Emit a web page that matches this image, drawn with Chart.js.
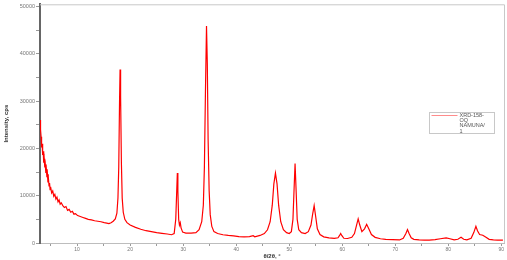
<!DOCTYPE html>
<html>
<head>
<meta charset="utf-8">
<script src="https://cdn.jsdelivr.net/npm/chart.js@4/dist/chart.umd.min.js"></script>
<style>
  html, body { margin: 0; padding: 0; background: #fff; }
  #wrap { width: 507px; height: 260px; }
</style>
</head>
<body>
<div id="wrap"><canvas id="xrd" width="507" height="260"></canvas></div>
<script>
// 2theta positions (deg) and intensity (cps)
const twoTheta = [
  3.0, 3.1, 3.2, 3.3, 3.4, 3.5, 3.6, 3.7, 3.8, 3.9, 4.0, 4.1, 4.2, 4.3, 4.4, 4.5, 4.6, 4.7, 4.8, 4.9,
  5.0, 5.2, 5.4, 5.6, 5.8, 6.0, 6.2, 6.4, 6.6, 6.8, 7.0, 7.3, 7.6, 7.9, 8.2, 8.5, 8.8, 9.1, 9.4, 9.7,
  10.1, 10.6, 11.1, 11.6, 12.1, 12.7, 13.3, 13.9, 14.5, 15.1, 15.6, 16.0, 16.4, 16.8, 17.2, 17.5,
  17.7, 17.85, 18.0, 18.1, 18.2, 18.35, 18.5, 18.7, 19.0, 19.4, 20.0, 21.0, 22.0, 23.0, 24.0, 25.0,
  26.0, 27.0, 27.8, 28.3, 28.6, 28.8, 28.9, 29.0, 29.15, 29.3, 29.45, 29.6, 29.9, 30.5, 31.5, 32.4,
  33.0, 33.5, 33.8, 34.0, 34.2, 34.4, 34.55, 34.7, 34.9, 35.1, 35.4, 35.8, 36.5, 37.5, 38.5, 39.5,
  40.5, 41.5, 42.5, 43.2, 43.5, 44.5, 45.3, 45.9, 46.4, 46.8, 47.1, 47.4, 47.7, 48.0, 48.4, 48.9,
  49.5, 50.0, 50.4, 50.7, 50.9, 51.1, 51.3, 51.5, 51.8, 52.3, 53.0, 53.6, 54.1, 54.4, 54.7, 55.0,
  55.3, 55.8, 56.5, 57.5, 58.5, 59.2, 59.5, 59.7, 59.9, 60.3, 61.0, 61.8, 62.3, 62.7, 63.0, 63.3,
  63.7, 64.2, 64.6, 65.0, 65.5, 66.2, 67.2, 68.2, 69.5, 70.8, 71.5, 72.0, 72.3, 72.6, 73.0, 73.5,
  74.5, 75.5, 76.4, 77.5, 78.5, 79.6, 80.3, 81.1, 81.8, 82.4, 82.9, 83.5, 84.3, 84.8, 85.2, 85.5,
  85.9, 86.5, 87.1, 87.7, 88.5, 89.3, 90.3
];
const intensity = [
  26000, 24000, 22500, 20200, 21000, 18600, 19400, 17000, 17800, 16000, 16600, 14800, 15600, 13900, 14600, 12800, 13500, 12100, 12700, 11300,
  11900, 10600, 11000, 9900, 10300, 9300, 9700, 8700, 9100, 8200, 8500, 7900, 7500, 7700, 6900, 7100, 6500, 6700, 6100, 6200,
  5800, 5600, 5400, 5200, 5000, 4900, 4700, 4600, 4500, 4300, 4200, 4100, 4300, 4600, 5100, 6300,
  9500, 16000, 30000, 36700, 31000, 17000, 9500, 6500, 5000, 4300, 3800, 3300, 2900, 2600, 2400, 2200,
  2050, 1900, 1750, 2000, 5000, 11500, 14800, 11000, 5000, 3800, 4300, 3200, 2300, 2100, 2100, 2200,
  2800, 4500, 8000, 16000, 32000, 45900, 38000, 22000, 11000, 6000, 3500, 2400, 2000, 1750, 1600, 1500,
  1350, 1300, 1350, 1550, 1300, 1600, 2000, 2800, 4500, 8000, 12500, 14800, 12500, 8000, 4500, 2800,
  2200, 2000, 2400, 5000, 11000, 16800, 11000, 5000, 2800, 2200, 2000, 2400, 3800, 6000, 7900, 5500,
  3000, 1800, 1300, 1100, 980, 1100, 1600, 2000, 1600, 1000, 950, 1200, 2000, 3800, 5100, 3800,
  2400, 3000, 3950, 3000, 1800, 1200, 900, 770, 700, 650, 1000, 2000, 2850, 2000, 1100, 770,
  650, 620, 620, 700, 900, 1100, 900, 650, 800, 1200, 800, 650, 1000, 2200, 3540, 2600,
  1800, 1650, 1200, 770, 650, 620, 600
];
const seriesLabel = 'XRD-158-OQ NAMUNA/1';
const legendLines = ['XRD-158-', 'OQ', 'NAMUNA/', '1'];

// tick positions: labelled every 10000 / 10 deg, minor marks in between
const yTicks = [0, 5000, 10000, 15000, 20000, 25000, 30000, 35000, 40000, 45000, 50000];
const xTicks = [5, 10, 15, 20, 25, 30, 35, 40, 45, 50, 55, 60, 65, 70, 75, 80, 85, 90];

const points = twoTheta.map((t, i) => ({ x: t, y: intensity[i] }));

// frame on top/right + the boxed legend inside the plot
const framePlugin = {
    id: 'frame',
    afterDraw(chart) {
        const { ctx, chartArea: a } = chart;
        ctx.save();
        ctx.strokeStyle = '#c8c8c8';
        ctx.lineWidth = 1;
        ctx.beginPath();
        ctx.moveTo(a.left, a.top + 0.5);
        ctx.lineTo(a.right + 0.5, a.top + 0.5);
        ctx.lineTo(a.right + 0.5, a.bottom);
        ctx.stroke();

        const bx = 429.5, by = 112.5, bw = 65, bh = 21;
        ctx.fillStyle = '#fff';
        ctx.fillRect(bx, by, bw, bh);
        ctx.strokeStyle = '#c8c8c8';
        ctx.strokeRect(bx, by, bw, bh);
        ctx.strokeStyle = 'rgba(255,0,0,0.45)';
        ctx.beginPath();
        ctx.moveTo(bx + 2, by + 3);
        ctx.lineTo(bx + 28, by + 3);
        ctx.stroke();
        ctx.fillStyle = '#555';
        ctx.font = '5.5px "Liberation Sans", Arial, sans-serif';
        ctx.textBaseline = 'middle';
        legendLines.forEach((s, i) => ctx.fillText(s, bx + 30, by + 3 + i * 5.2));
        ctx.restore();
    }
};

new Chart(document.getElementById('xrd').getContext('2d'), {
    type: 'line',
    data: {
        datasets: [
            {
                label: seriesLabel,
                data: points,
                borderColor: 'rgb(255, 0, 0)',
                borderWidth: 1.2,
                pointRadius: 0,
                tension: 0,
                fill: false,
            },
        ],
    },
    options: {
        responsive: false,
        animation: false,
        maintainAspectRatio: false,
        layout: { padding: { top: 1, right: 3, left: 3, bottom: 0 } },
        plugins: {
            legend: { display: false },
            tooltip: { enabled: false },
        },
        scales: {
            x: {
                type: 'linear',
                min: 3,
                max: 90.5,
                afterFit: (s) => { s.height = 17; },
                afterBuildTicks: (s) => { s.ticks = xTicks.map((v) => ({ value: v })); },
                border: { display: true, color: '#bdbdbd', width: 1 },
                grid: { drawOnChartArea: false, drawTicks: true, tickLength: 3, color: '#9a9a9a' },
                ticks: {
                    autoSkip: false,
                    maxRotation: 0,
                    padding: 1,
                    color: '#777',
                    font: { size: 5, family: 'Liberation Sans, Arial, sans-serif' },
                    callback: (v) => (v % 10 === 0 ? String(v) : ''),
                },
                title: {
                    display: true,
                    text: 'θ/2θ, °',
                    color: '#333',
                    padding: { top: 0, bottom: 0 },
                    font: { size: 6, weight: 'bold', family: 'Liberation Sans, Arial, sans-serif' },
                },
            },
            y: {
                min: 0,
                max: 50500,
                afterFit: (s) => { s.width = 37; },
                afterBuildTicks: (s) => { s.ticks = yTicks.map((v) => ({ value: v })); },
                border: { display: true, color: '#666', width: 2 },
                grid: { drawOnChartArea: false, drawTicks: true, tickLength: 4, color: '#9a9a9a' },
                ticks: {
                    autoSkip: false,
                    padding: 1,
                    color: '#777',
                    font: { size: 5.5, family: 'Liberation Sans, Arial, sans-serif' },
                    callback: (v) => (v % 10000 === 0 ? String(v) : ''),
                },
                title: {
                    display: true,
                    text: 'Intensity, cps',
                    color: '#333',
                    padding: { top: 0, bottom: 0 },
                    font: { size: 6, weight: 'bold', family: 'Liberation Sans Narrow, Liberation Sans, sans-serif' },
                },
            },
        },
    },
    plugins: [framePlugin],
});
</script>
</body>
</html>
